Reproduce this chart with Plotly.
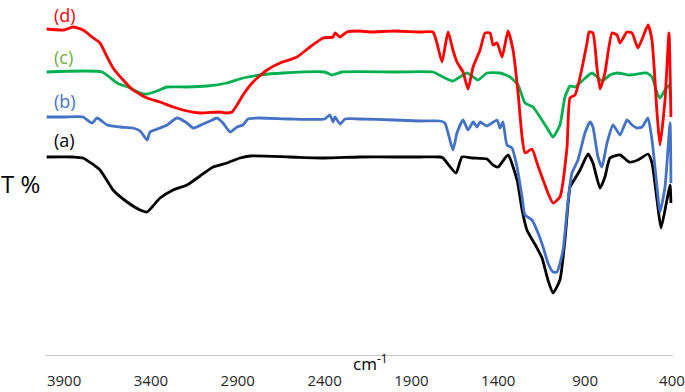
import plotly.graph_objects as go

# Wavenumbers (cm-1) and transmittance (arbitrary offset units)
wn_a = [4000, 3848, 3791, 3693, 3618, 3537, 3462, 3422, 3347, 3272, 3192, 3117, 3042, 2962, 2887, 2829,
        2600, 2400, 2200, 2000, 1851, 1735, 1718, 1643, 1609, 1550, 1465, 1430, 1401, 1344, 1292, 1263,
        1235, 1177, 1148, 1114, 1085, 1045, 1016, 987, 970, 929, 883, 855, 814, 786, 757, 699, 647, 596,
        538, 515, 486, 463, 429, 411, 406]
t_a = [198, 198, 197, 185, 165, 153, 145, 143, 157, 165, 170, 179, 188, 192, 197, 199,
       198, 197, 198, 198, 198, 198, 197, 182, 198, 197, 196, 190, 188, 200, 175, 145,
       125, 107, 97, 75, 62, 75, 115, 168, 173, 185, 201, 192, 167, 178, 197, 200, 193, 195,
       201, 192, 155, 127, 155, 170, 152]

wn_b = [4000, 3900, 3791, 3739, 3710, 3652, 3578, 3503, 3462, 3422, 3405, 3347, 3307, 3249, 3192, 3157,
        3100, 3059, 3019, 2985, 2944, 2904, 2870, 2841, 2772, 2600, 2400, 2369, 2351, 2340, 2311, 2282,
        2200, 2000, 1851, 1735, 1707, 1661, 1638, 1603, 1574, 1545, 1522, 1505, 1465, 1407, 1390, 1373,
        1350, 1321, 1292, 1263, 1246, 1206, 1171, 1142, 1114, 1085, 1062, 1027, 998, 976, 941, 901, 872,
        855, 826, 803, 774, 739, 699, 659, 630, 601, 572, 538, 515, 486, 469, 440, 411, 406]
t_b = [238, 238, 238, 232, 237, 230, 228, 227, 224, 215, 223, 227, 230, 237, 232, 227,
       231, 234, 237, 232, 223, 228, 230, 236, 237, 236, 236, 240, 233, 238, 231, 236,
       236, 235, 234, 234, 232, 205, 222, 235, 225, 233, 228, 233, 229, 235, 227, 233,
       210, 207, 188, 158, 140, 135, 122, 108, 92, 83, 83, 105, 155, 182, 195, 222, 233,
       228, 198, 188, 212, 230, 220, 235, 230, 227, 228, 237, 215, 168, 143, 168, 232, 172]

wn_c = [4000, 3681, 3595, 3520, 3462, 3422, 3365, 3307, 3192, 3077, 2962, 2870, 2772, 2639, 2400, 2357,
        2300, 2000, 1776, 1718, 1661, 1580, 1517, 1465, 1390, 1332, 1286, 1246, 1200, 1160, 1119, 1085,
        1045, 1016, 987, 958, 912, 860, 803, 757, 716, 647, 544, 515, 486, 469, 440, 417, 406]
t_c = [283, 283, 272, 267, 262, 261, 264, 268, 268, 269, 272, 277, 280, 282, 283, 280,
       283, 283, 283, 278, 274, 282, 275, 282, 282, 278, 270, 252, 248, 238, 227, 218,
       230, 258, 269, 268, 275, 282, 274, 280, 282, 280, 282, 278, 262, 257, 265, 270, 255]

wn_d = [4000, 3900, 3848, 3791, 3739, 3693, 3652, 3618, 3560, 3503, 3422, 3347, 3272, 3192, 3117, 3002,
        2962, 2933, 2904, 2870, 2812, 2731, 2657, 2559, 2484, 2409, 2351, 2340, 2311, 2271, 2196, 2138,
        2000, 1851, 1776, 1753, 1724, 1689, 1661, 1638, 1603, 1574, 1545, 1505, 1476, 1447, 1430, 1407,
        1378, 1344, 1315, 1286, 1263, 1246, 1206, 1177, 1142, 1114, 1085, 1045, 1004, 987, 958, 929, 889,
        877, 855, 832, 814, 786, 745, 716, 699, 659, 630, 596, 567, 538, 515, 486, 469, 440, 417, 406]
t_d = [326, 325, 328, 325, 318, 312, 298, 287, 275, 265, 257, 253, 248, 244, 242, 243,
       242, 243, 250, 260, 273, 285, 292, 298, 308, 317, 318, 322, 318, 323, 324, 323,
       324, 323, 323, 312, 293, 323, 305, 293, 283, 266, 288, 305, 322, 322, 310, 312,
       298, 324, 305, 262, 218, 202, 206, 192, 175, 162, 152, 158, 208, 257, 260, 278, 312,
       323, 322, 288, 266, 282, 322, 320, 312, 323, 322, 307, 318, 330, 315, 242, 210, 255, 322, 238]

tick_vals = [3900, 3400, 2900, 2400, 1900, 1400, 900, 400]
tick_text = ["3900", "3400", "2900", "2400", "1900", "1400", "900", "400"]

series = [
    (wn_a, t_a, "#000000", "(a)"),
    (wn_b, t_b, "#4472C4", "(b)"),
    (wn_c, t_c, "#00B050", "(c)"),
    (wn_d, t_d, "#FF0000", "(d)"),
]

fig = go.Figure()
for xs, ys, col, name in series:
    fig.add_trace(go.Scatter(x=xs, y=ys, mode="lines", name=name,
                             line=dict(color=col, width=2.8, shape="spline", smoothing=0.5),
                             hoverinfo="skip"))

font_family = "Open Sans, DejaVu Sans, sans-serif"
fig.update_layout(
    width=685, height=392,
    margin=dict(l=46, r=12, t=0, b=37),
    paper_bgcolor="white", plot_bgcolor="white",
    showlegend=False,
    font=dict(family=font_family, color="#404040"),
    xaxis=dict(range=[4004, 394], tickvals=tick_vals, ticktext=tick_text,
               showgrid=False, zeroline=False, showline=True, linecolor="#C8C8C8", linewidth=1.2,
               ticks="outside", ticklen=12, tickcolor="rgba(0,0,0,0)",
               tickfont=dict(size=15, color="#262626", family=font_family)),
    yaxis=dict(range=[0, 355], visible=False),
)

labels = [
    ("(d)", 0.959, "#FF0000"),
    ("(c)", 0.839, "#70AD47"),
    ("(b)", 0.715, "#4472C4"),
    ("(a)", 0.606, "#000000"),
]
for txt, yp, col in labels:
    fig.add_annotation(text=txt, xref="paper", yref="paper", x=0.0065, y=yp,
                       showarrow=False, font=dict(size=18, color=col, family=font_family),
                       xanchor="left", yanchor="middle", xshift=2)

fig.add_annotation(text="T %", xref="paper", yref="paper", x=-0.040, y=0.484,
                   showarrow=False, font=dict(size=24, color="#000000", family=font_family),
                   xanchor="center", yanchor="middle")
fig.add_annotation(text="cm<sup>-1</sup>", xref="paper", yref="paper", x=0.518, y=-0.022,
                   showarrow=False, font=dict(size=17, color="#000000", family=font_family),
                   xanchor="center", yanchor="middle")

fig.write_html("out.html", config={"displayModeBar": False},
               post_script="document.body.style.margin='0';document.body.style.overflow='hidden';")
